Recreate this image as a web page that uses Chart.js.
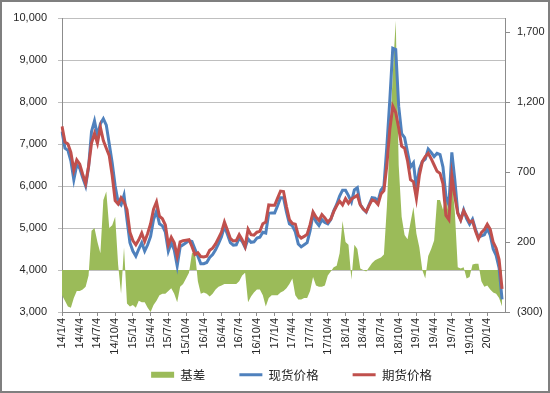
<!DOCTYPE html>
<html>
<head>
<meta charset="utf-8">
<script src="https://cdn.jsdelivr.net/npm/chart.js@4.4.1/dist/chart.umd.min.js"></script>
<style>
  html, body { margin: 0; padding: 0; background: #fff; }
  #wrap { width: 550px; height: 393px; }
</style>
</head>
<body>
<div id="wrap"><canvas id="chart" width="550" height="393"></canvas></div>
<script>
// half-month periods, Jan 2014 .. mid Mar 2020 (one spare slot at the end)
const periods = [];
for (let y = 14; y <= 20; y++) {
  for (let m = 1; m <= 12; m++) {
    periods.push(y + '/' + m + '/4', y + '/' + m + '/19');
  }
}
periods.length = 151;

// right axis ticks (basis)
const basisTicks = [-300, 200, 700, 1200, 1700];

// 现货价格 (spot)
const spot = [
  7300, 6900, 6850, 6600, 6150, 6500, 6420, 6200, 6000, 6450, 7300, 7550,
  7200, 7480, 7600, 7450, 7000, 6550, 6000, 5620, 5550, 5780, 5200, 4650,
  4450, 4330, 4500, 4650, 4450, 4600, 4800, 5200, 5400, 5100, 5050, 4900,
  4450, 4650, 4480, 4100, 4550, 4600, 4650, 4700, 4680, 4500, 4330, 4150,
  4150, 4180, 4300, 4370, 4480, 4630, 4790, 5040, 4850, 4650, 4590, 4600,
  4760, 4680, 4540, 4740, 4660, 4670, 4760, 4780, 4900, 4880, 5350, 5360,
  5360, 5530, 5720, 5720, 5380, 5100, 5050, 4910, 4620, 4550, 4600, 4650,
  4930, 5330, 5150, 5060, 5200, 5130, 5100, 5200, 5410, 5560, 5760, 5900,
  5900, 5770, 5620, 5910, 5960, 5560, 5450, 5380, 5560, 5720, 5710, 5640,
  5900, 6000, 6950, 8050, 9280, 9250, 7900, 7250, 7150, 6800, 6450, 6550,
  5950, 6400, 6580, 6640, 6880, 6800, 6700, 6780, 6750, 6450, 5750, 5550,
  6800, 6150, 5370, 5200, 5430, 5220, 5090, 5210, 4970, 4780, 4810, 4840,
  4980, 4830, 4500, 4350, 4050, 3300, null
];

// 期货价格 (futures)
const futures = [
  7420, 7050, 7000, 6800, 6380, 6620, 6520, 6280, 6060, 6470, 7020, 7250,
  7020, 7400, 7080, 6900, 6720, 6250, 5650, 5570, 5720, 5620, 5440, 4900,
  4700, 4600, 4720, 4880, 4680, 4870, 5100, 5450, 5620, 5280, 5220, 5070,
  4600, 4780, 4650, 4330, 4670, 4700, 4710, 4720, 4560, 4370, 4410, 4320,
  4310, 4330, 4470, 4520, 4620, 4760, 4900, 5140, 4950, 4750, 4690, 4700,
  4840, 4720, 4560, 4970, 4840, 4830, 4900, 4920, 5100, 5140, 5550, 5540,
  5540, 5710, 5880, 5870, 5510, 5200, 5110, 5090, 4830, 4760, 4800, 4850,
  5080, 5380, 5260, 5180, 5320, 5240, 5140, 5210, 5390, 5530, 5640, 5550,
  5700, 5590, 5690, 5730, 5780, 5550, 5450, 5390, 5540, 5670, 5640, 5560,
  5810, 5890, 6500, 7350, 7900, 7750, 7380, 6950, 6900, 6600, 6150, 6100,
  5700, 6250, 6580, 6700, 6780, 6650, 6500, 6350, 6300, 6050, 5300, 5200,
  6250, 5750, 5350, 5190, 5410, 5280, 5140, 5170, 4930, 4740, 4890, 4960,
  5090, 4970, 4660, 4520, 4250, 3550, null
];

// 基差 (basis, right axis)
const basis = [
  -180, -220, -260, -270, -200, -150, -150, -140, -120, -40, 280, 300,
  200, 120, 500, 560, 300, 320, 380, 40, -170, 160, -240, -260,
  -250, -270, -220, -230, -230, -270, -300, -250, -220, -180, -170, -170,
  -150, -130, -170, -230, -120, -100, -60, -20, 120, 130, -80, -170,
  -160, -170, -190, -170, -140, -120, -110, -100, -100, -100, -100, -100,
  -80, -40, -20, -230, -190, -160, -140, -140, -180, -260, -200, -180,
  -180, -180, -160, -150, -130, -100, -60, -180, -210, -210, -200, -200,
  -150, -50, -110, -120, -120, -110, -40, -10, 20, 30, 120, 350,
  200, 180, -70, 180, 150, 10, 0, -10, 20, 50, 70, 80,
  90, 110, 450, 950, 1400, 1780, 750, 380, 250, 220, 340, 450,
  260, 160, 0, -60, 100, 150, 210, 500, 500, 430, 550, 380,
  650, 420, 20, 10, 20, -60, -50, 40, 45, 45, -80, -120,
  -110, -140, -160, -170, -200, -260, null
];

const tickFont = { family: '"Liberation Sans", Arial, sans-serif', size: 11 };
const textColor = '#262626';
const axisColor = '#8C8C8C';
const gridColor = '#BFBFBF';

const framePlugin = {
  id: 'frame',
  afterDraw(chart) {
    const { ctx, width, height } = chart;
    ctx.save();
    ctx.strokeStyle = '#7F7F7F';
    ctx.lineWidth = 2;
    ctx.strokeRect(1, 1, width - 2, height - 2);
    ctx.restore();
  }
};

// the legend padding also sets its row offset, so lift the box back up
// under the date labels and nudge it right, like the original
const legendShift = {
  id: 'legendShift',
  afterLayout(chart) {
    const lg = chart.legend;
    lg.left += 8;
    lg.right += 8;
    lg.top -= 22.5;
    lg.bottom -= 22.5;
  }
};

new Chart(document.getElementById('chart'), {
  data: {
    labels: periods,
    datasets: [
      {
        type: 'line', label: '基差', data: basis, yAxisID: 'y1',
        fill: 'origin', backgroundColor: '#9BBB59', borderColor: '#9BBB59',
        borderWidth: 0, pointRadius: 0, order: 3
      },
      {
        type: 'line', label: '现货价格', data: spot, yAxisID: 'y',
        borderColor: '#4F81BD', borderWidth: 3, pointRadius: 0, fill: false, order: 2
      },
      {
        type: 'line', label: '期货价格', data: futures, yAxisID: 'y',
        borderColor: '#C0504D', borderWidth: 3, pointRadius: 0, fill: false, order: 1
      }
    ]
  },
  options: {
    responsive: false,
    animation: false,
    layout: { padding: { top: 18, bottom: -20.5, left: 0, right: 0 } },
    plugins: {
      tooltip: { enabled: false },
      legend: {
        position: 'bottom',
        fullSize: false,
        labels: {
          usePointStyle: true,
          pointStyleWidth: 23,
          boxHeight: 6,
          padding: 34,
          color: textColor,
          font: { family: '"Noto Sans CJK SC", sans-serif', size: 12.5 },
          generateLabels(chart) {
            return chart.data.datasets.map((ds, i) => ({
              text: ds.label,
              datasetIndex: i,
              fillStyle: i === 0 ? ds.backgroundColor : ds.borderColor,
              strokeStyle: ds.borderColor,
              lineWidth: i === 0 ? 0 : 3,
              pointStyle: i === 0 ? 'rect' : 'line',
              hidden: false,
              fontColor: textColor
            }));
          }
        }
      }
    },
    scales: {
      x: {
        type: 'category',
        offset: false,
        grid: { display: true, drawOnChartArea: false, drawTicks: true, tickLength: 4, color: axisColor },
        border: { display: true, color: axisColor },
        ticks: {
          autoSkip: false, minRotation: 90, maxRotation: 90, padding: 2,
          font: tickFont, color: textColor,
          callback: (v, i) => (i % 6 === 0 && i <= 144) ? periods[i] : null
        },
        afterFit: (s) => { s.height = 45; }
      },
      y: {
        position: 'left',
        min: 3000, max: 10000,
        grid: { color: gridColor, tickLength: 4 },
        border: { color: axisColor },
        ticks: {
          stepSize: 1000, padding: 11, font: tickFont, color: textColor,
          callback: (v) => v.toLocaleString('en-US')
        },
        afterFit: (s) => { s.width = 62; }
      },
      y1: {
        position: 'right',
        min: -300, max: 1800,
        afterBuildTicks: (s) => { s.ticks = basisTicks.map(v => ({ value: v })); },
        grid: { drawOnChartArea: false, tickLength: 5, color: axisColor },
        border: { color: axisColor },
        ticks: {
          padding: 7, font: tickFont, color: textColor,
          callback: (v) => v < 0 ? '(' + Math.abs(v) + ')' : v.toLocaleString('en-US')
        },
        afterFit: (s) => { s.width = 45; }
      }
    }
  },
  plugins: [framePlugin, legendShift]
});
</script>
</body>
</html>
